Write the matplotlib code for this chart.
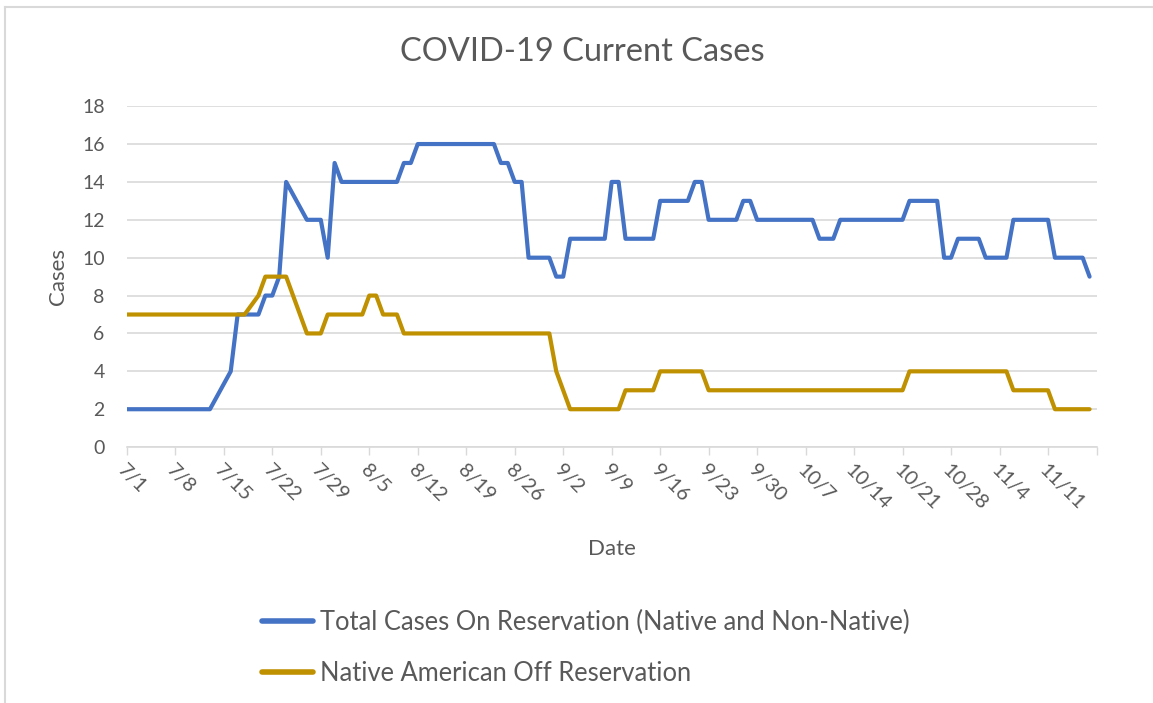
import matplotlib
matplotlib.use("Agg")
import matplotlib.pyplot as plt
from matplotlib.lines import Line2D
import pandas as pd

YEAR = 2020

# Total cases on reservation - vertices of the line (date, cases)
total_dates = ["7/1", "7/13", "7/16", "7/17", "7/20", "7/21", "7/22", "7/23", "7/24",
               "7/27", "7/29", "7/30", "7/31", "8/1", "8/9", "8/10", "8/11", "8/12",
               "8/23", "8/24", "8/25", "8/26", "8/27", "8/28", "8/31", "9/1", "9/2",
               "9/3", "9/8", "9/9", "9/10", "9/11", "9/15", "9/16", "9/20", "9/21",
               "9/22", "9/23", "9/27", "9/28", "9/29", "9/30", "10/8", "10/9", "10/11",
               "10/12", "10/21", "10/22", "10/26", "10/27", "10/28", "10/29", "11/1",
               "11/2", "11/5", "11/6", "11/11", "11/12", "11/16", "11/17"]
total_cases = [2, 2, 4, 7, 7, 8, 8, 9, 14,
               12, 12, 10, 15, 14, 14, 15, 15, 16,
               16, 15, 15, 14, 14, 10, 10, 9, 9,
               11, 11, 14, 14, 11, 11, 13, 13, 14,
               14, 12, 12, 13, 13, 12, 12, 11, 11,
               12, 12, 13, 13, 10, 10, 11, 11,
               10, 10, 12, 12, 10, 10, 9]

# Native American off reservation
off_dates = ["7/1", "7/18", "7/20", "7/21", "7/24", "7/27", "7/29", "7/30", "8/4",
             "8/5", "8/6", "8/7", "8/9", "8/10", "8/31", "9/1", "9/3", "9/10",
             "9/11", "9/15", "9/16", "9/22", "9/23", "10/21", "10/22", "11/5",
             "11/6", "11/11", "11/12", "11/17"]
off_cases = [7, 7, 8, 9, 9, 6, 6, 7, 7,
             8, 8, 7, 7, 6, 6, 4, 2, 2,
             3, 3, 4, 4, 3, 3, 4, 4,
             3, 3, 2, 2]

axis_start = "7/1"
axis_end = "11/18"

labels = ["Total Cases On Reservation (Native and Non-Native)",
          "Native American Off Reservation"]
colors = ["#4472C4", "#BF9000"]
GRAY = "#595959"


def to_dates(strs):
    return pd.to_datetime([f"{YEAR}/{s}" for s in strs], format="%Y/%m/%d")


plt.rcParams['font.family'] = ['Lato', 'DejaVu Sans']

fig = plt.figure(figsize=(11.53, 7.03), dpi=100)
ax = fig.add_axes([0.110, 0.364, 0.841, 0.485])

ax.plot(to_dates(total_dates), total_cases, color=colors[0], lw=3.0,
        solid_capstyle="round", solid_joinstyle="round", label=labels[0])
ax.plot(to_dates(off_dates), off_cases, color=colors[1], lw=3.0,
        solid_capstyle="round", solid_joinstyle="round", label=labels[1])

start, end = to_dates([axis_start, axis_end])
ax.set_xlim(start, end)
ax.set_ylim(0, 18)
ax.set_yticks(range(0, 19, 2))

ticks = pd.date_range(start, end, freq="7D")
ax.set_xticks(ticks)
ax.set_xticklabels([f"{d.month}/{d.day}" for d in ticks[:-1]] + [""])
for lab in ax.get_xticklabels():
    lab.set_rotation(-45)
    lab.set_ha("left")
    lab.set_va("top")
    lab.set_rotation_mode("anchor")

ax.grid(axis="y", color="#D9D9D9", lw=1.2)
ax.set_axisbelow(True)
for s in ["top", "right", "left"]:
    ax.spines[s].set_visible(False)
ax.spines["bottom"].set_color("#D9D9D9")
ax.spines["bottom"].set_linewidth(1.2)
ax.tick_params(axis="y", length=0, pad=16, labelsize=14, labelcolor=GRAY)
ax.tick_params(axis="x", length=6, width=1, color="#D9D9D9", pad=4,
               labelsize=14.5, labelcolor=GRAY)

fig.text(0.505, 0.926, "COVID-19 Current Cases", fontsize=23.5, color=GRAY,
         ha="center", va="center")
ax.set_ylabel("Cases", fontsize=16, color=GRAY, labelpad=10)
ax.set_xlabel("Date", fontsize=16, color=GRAY, labelpad=19)

fig.legend(handles=[Line2D([], [], color=c, lw=4, solid_capstyle="round") for c in colors],
           labels=labels, loc="center", bbox_to_anchor=(0.508, 0.078),
           frameon=False, fontsize=18.4, labelcolor=GRAY, handlelength=2.0,
           handletextpad=0.3, labelspacing=1.0)

# light border of the chart area (left and top edges visible)
fig.add_artist(Line2D([0.0045, 0.0045], [0, 0.99], color="#D9D9D9", lw=1.5))
fig.add_artist(Line2D([0.0045, 1.0], [0.99, 0.99], color="#D9D9D9", lw=1.5))

fig.savefig("out.png", dpi=100)
